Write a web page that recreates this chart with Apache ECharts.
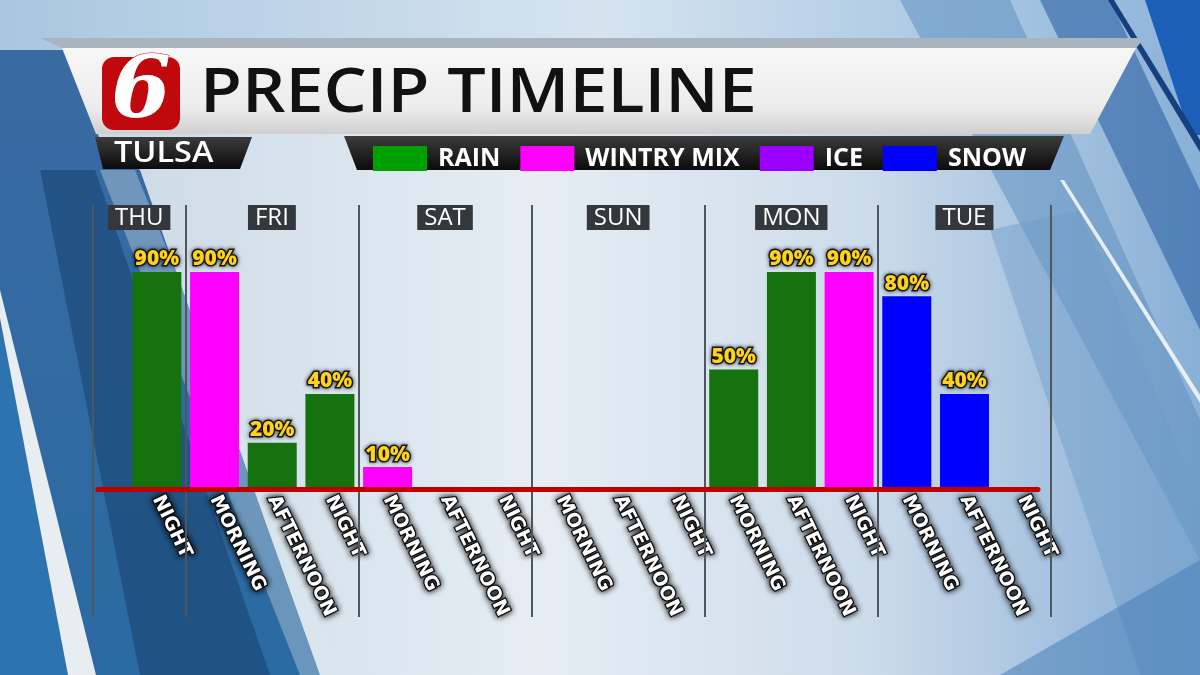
<!DOCTYPE html>
<html><head><meta charset="utf-8">
<script src="https://cdn.jsdelivr.net/npm/echarts@6/dist/echarts.min.js"></script>
<style>html,body{margin:0;padding:0;}#c{width:1200px;height:675px;}</style>
</head><body><div id="c"></div>
<script>
// ---- data ----
const slots = ['NIGHT','MORNING','AFTERNOON','NIGHT','MORNING','AFTERNOON','NIGHT','MORNING','AFTERNOON','NIGHT','MORNING','AFTERNOON','NIGHT','MORNING','AFTERNOON','NIGHT'];
const days = ['THU','FRI','SAT','SUN','MON','TUE'];
const dayBounds = [-0.6, 1, 4, 7, 10, 13, 16]; // day column edges, in slot units
const rain   = [90,'-',20,40,'-','-','-','-','-','-',50,90,'-','-','-','-'];
const wintry = ['-',90,'-','-',10,'-','-','-','-','-','-','-',90,'-','-','-'];
const ice    = ['-','-','-','-','-','-','-','-','-','-','-','-','-','-','-','-'];
const snow   = ['-','-','-','-','-','-','-','-','-','-','-','-','-',80,40,'-'];
const seriesNames = ['RAIN','WINTRY MIX','ICE','SNOW'];
const barColors = ['#15720f','#ff00ff','#9900ff','#0000ff'];
const legendColors = ['#00a000','#ff00ff','#9900ff','#0000ff'];

const chart = echarts.init(document.getElementById('c'));
const FONT = '"Open Sans", sans-serif';

const barLabel = {
  show: true, position: 'top', distance: 2,
  formatter: '{c}%', color: '#ffd21a', fontFamily: FONT, fontWeight: 800, fontSize: 21,
  textBorderColor: '#1a1a1a', textBorderWidth: 3, textShadowColor: 'rgba(0,0,0,0.6)', textShadowBlur: 4
};
const dataSets = [rain, wintry, ice, snow];
const barSeries = dataSets.map((d, i) => ({
  name: seriesNames[i], type: 'bar', stack: 'p', data: d, barWidth: 49,
  xAxisIndex: 0, yAxisIndex: 0,
  itemStyle: { color: barColors[i] }, label: barLabel, z: 3
}));

const dayAreas = days.map((d, i) => [{ xAxis: dayBounds[i], name: d }, { xAxis: dayBounds[i + 1] }]);
const darkGrad = {type:'linear',x:0,y:0,x2:0,y2:1,colorStops:[{offset:0,color:'#3c3c3c'},{offset:1,color:'#0b0b0b'}]};

const option = {
  backgroundColor: {
    type: 'linear', x: 0, y: 0, x2: 1, y2: 0,
    colorStops: [{offset:0,color:'#c5d6e4'},{offset:0.45,color:'#e6edf3'},{offset:0.72,color:'#cddceb'},{offset:1,color:'#88afd6'}]
  },
  animation: false,
  graphic: [
    // background panels
    { type: 'rect', z: -20, shape: {x:0,y:0,width:1200,height:50}, style: {fill: {type:'linear',x:0,y:0,x2:1,y2:0,colorStops:[{offset:0,color:'#a9c6e0'},{offset:0.5,color:'#d6e4f0'},{offset:1,color:'#8db4da'}]}} },
    { type: 'polygon', z: -19, shape: {points: [[0,50],[70,50],[100,140],[140,170],[320,675],[0,675]]}, style: {fill: {type:'linear',x:0,y:0,x2:0,y2:1,colorStops:[{offset:0,color:'#3a6aa2'},{offset:1,color:'#2a6aa2'}]}} },
    { type: 'polygon', z: -18, shape: {points: [[40,170],[95,170],[270,675],[140,675]]}, style: {fill: '#1b4a78', opacity: 0.7} },
    { type: 'polygon', z: -18, shape: {points: [[100,170],[135,170],[340,675],[300,675]]}, style: {fill: '#dfe7ee', opacity: 0.35} },
    { type: 'polygon', z: -17, shape: {points: [[0,290],[0,318],[68,675],[96,675]]}, style: {fill: '#e8edf1'} },
    { type: 'polygon', z: -18, shape: {points: [[0,318],[0,675],[68,675]]}, style: {fill: '#2d73b0'} },
    { type: 'polygon', z: -19, shape: {points: [[900,0],[1010,0],[1200,420],[1200,560]]}, style: {fill: '#5f8fc0', opacity: 0.55} },
    { type: 'polygon', z: -19, shape: {points: [[1040,0],[1110,0],[1200,190],[1200,330]]}, style: {fill: '#2d63a4', opacity: 0.6} },
    { type: 'polygon', z: -18, shape: {points: [[1145,0],[1200,0],[1200,135],[1190,135]]}, style: {fill: '#1c5fb8'} },
    { type: 'polygon', z: -18, shape: {points: [[1108,0],[1114,0],[1200,140],[1200,152]]}, style: {fill: '#163f80'} },
    { type: 'polygon', z: -19, shape: {points: [[990,230],[1080,210],[1200,500],[1200,675],[1140,675]]}, style: {fill: '#6f9cc8', opacity: 0.45} },
    { type: 'polygon', z: -18, shape: {points: [[1060,180],[1064,180],[1200,395],[1200,403]]}, style: {fill: '#f2f6fa', opacity: 0.9} },
    { type: 'polygon', z: -19, shape: {points: [[1000,675],[1200,560],[1200,675]]}, style: {fill: '#3f7ab5', opacity: 0.5} },
    // title banner
    { type: 'polygon', z: -5, shape: {points: [[40,38],[1145,38],[1136,48],[62,48]]}, style: {fill: '#a9b4bf'} },
    { type: 'polygon', z: -5, shape: {points: [[62,48],[1136,48],[1090,134],[96,134]]}, style: {fill: {type:'linear',x:0,y:0,x2:0,y2:1,colorStops:[{offset:0,color:'#f7f7f7'},{offset:0.7,color:'#ececec'},{offset:1,color:'#cfcfcf'}]}} },
    // logo
    { type: 'rect', z: -4, shape: {x:102,y:57,width:78,height:73,r:12}, style: {fill: '#c0090c'} },
    { type: 'text', z: -3, style: {x:141,y:95,text:'6',fill:'#ffffff',font:'italic 900 86px "DejaVu Serif", serif',align:'center',verticalAlign:'middle', stroke:'#c0090c', lineWidth:1} },
    { type: 'text', z: -3, x: 200, y: 94, scaleX: 1.1, style: {x:0,y:0,text:'PRECIP TIMELINE',fill:'#111111',font:'600 62px "Open Sans", sans-serif',verticalAlign:'middle'} },
    // TULSA box
    { type: 'polygon', z: -4, shape: {points: [[95,137],[252,137],[240,169],[103,169]]}, style: {fill: darkGrad} },
    { type: 'text', z: -3, x: 114, y: 154, scaleX: 1.12, style: {x:0,y:0,text:'TULSA',fill:'#ffffff',font:'600 29px "Open Sans", sans-serif',verticalAlign:'middle'} },
    // legend box
    { type: 'polygon', z: -4, shape: {points: [[344,136],[1064,136],[1050,170],[357,170]]}, style: {fill: darkGrad} }
  ],
  legend: {
    left: 368, top: 141, itemWidth: 54, itemHeight: 25, itemGap: 20,
    icon: 'rect', selectedMode: false,
    textStyle: { color: '#ffffff', fontFamily: FONT, fontWeight: 700, fontSize: 25, padding: [0,0,0,6] },
    data: seriesNames.map((n, i) => ({ name: n, itemStyle: { color: legendColors[i] } }))
  },
  grid: [
    { left: 128, right: 149, top: 247.5, bottom: 183.5 },           // bars
    { left: 98, right: 162, top: 247.5, bottom: 185.5 },            // red baseline
    { left: 93, right: 149, top: 205, bottom: 58 }                  // day columns
  ],
  xAxis: [
    { type: 'category', gridIndex: 0, data: slots, boundaryGap: true,
      axisLine: { show: false }, axisTick: { show: false }, splitLine: { show: false },
      axisLabel: { interval: 0, rotate: -64, margin: 5, color: '#ffffff', fontFamily: '"DejaVu Sans", sans-serif', fontWeight: 700, fontSize: 19,
        textBorderColor: '#111', textBorderWidth: 2.5, textShadowColor: 'rgba(0,0,0,0.9)', textShadowBlur: 6 } },
    { type: 'category', gridIndex: 1, data: slots, z: 10,
      axisLine: { show: true, lineStyle: { color: '#c00000', width: 5 } }, axisTick: { show: false }, axisLabel: { show: false } },
    { type: 'value', gridIndex: 2, min: dayBounds[0], max: dayBounds[dayBounds.length - 1],
      axisLine: { show: false }, axisTick: { show: false }, axisLabel: { show: false }, splitLine: { show: false } }
  ],
  yAxis: [
    { type: 'value', gridIndex: 0, min: 0, max: 100, show: false },
    { type: 'value', gridIndex: 1, min: 0, max: 100, show: false },
    { type: 'value', gridIndex: 2, min: 0, max: 1, show: false }
  ],
  series: [
    ...barSeries,
    { type: 'line', xAxisIndex: 2, yAxisIndex: 2, data: [], silent: true, z: 1,
      markLine: { silent: true, symbol: 'none', label: { show: false },
        lineStyle: { color: '#4e565e', width: 2, type: 'solid' },
        data: dayBounds.map(b => ({ xAxis: b })) },
      markArea: { silent: true, itemStyle: { color: 'rgba(0,0,0,0)' },
        label: { show: true, position: 'insideTop', distance: 0, color: '#ffffff', fontFamily: FONT, fontWeight: 500, fontSize: 24,
          backgroundColor: '#34383c', padding: [1, 7, 0, 7] },
        data: dayAreas }
    }
  ]
};
chart.setOption(option);
</script></body></html>
